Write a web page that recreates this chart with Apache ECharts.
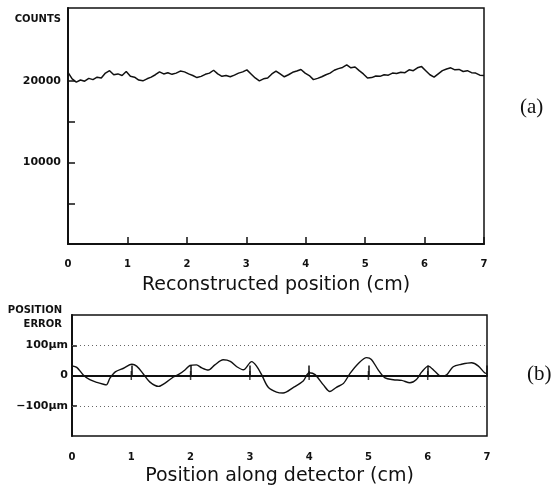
<!DOCTYPE html>
<html>
<head>
<meta charset="utf-8">
<script src="https://cdn.jsdelivr.net/npm/echarts@6/dist/echarts.min.js"></script>
<style>
  html, body { margin: 0; padding: 0; background: #fff; }
  #chart { width: 559px; height: 489px; }
</style>
</head>
<body>
<div id="chart"></div>
<script>
// (a) counts vs reconstructed position, one value every 0.07 cm
var COUNT_STEP = 0.07;
var counts = [
  21100, 20300, 19900, 20150, 20000, 20350, 20200, 20500, 20400, 21000,
  21300, 20800, 20900, 20700, 21200, 20600, 20500, 20150, 20050, 20300,
  20500, 20800, 21150, 20900, 21050, 20850, 21000, 21250, 21150, 20900,
  20700, 20450, 20600, 20850, 21000, 21350, 20900, 20600, 20700, 20550,
  20750, 21000, 21150, 21400, 20900, 20400, 20050, 20300, 20400, 20900,
  21250, 20900, 20550, 20800, 21100, 21250, 21450, 21000, 20700, 20200,
  20350, 20550, 20800, 21000, 21350, 21550, 21700, 22000, 21650, 21750,
  21300, 20900, 20400, 20450, 20650, 20600, 20800, 20750, 21000, 20950,
  21100, 21050, 21400, 21300, 21650, 21800, 21300, 20800, 20500, 20900,
  21300, 21500, 21650, 21400, 21450, 21200, 21300, 21050, 21000, 20750,
  20700
];

// (b) position error (um) vs position along detector (cm)
var errPos = [0, 0.08, 0.19, 0.30, 0.42, 0.53, 0.58, 0.64, 0.73, 0.87,
  1.01, 1.09, 1.20, 1.31, 1.46, 1.57, 1.71, 1.82, 1.91, 1.99,
  2.10, 2.19, 2.30, 2.41, 2.55, 2.67, 2.78, 2.89, 3.03, 3.11,
  3.20, 3.31, 3.45, 3.56, 3.73, 3.90, 4.00, 4.10, 4.24, 4.35,
  4.46, 4.58, 4.69, 4.83, 4.97, 5.05, 5.17, 5.28, 5.42, 5.56,
  5.70, 5.81, 5.90, 6.01, 6.12, 6.23, 6.32, 6.43, 6.57, 6.74,
  6.85, 6.96, 7.00];
var errVal = [32, 27, 2, -14, -23, -29, -31, -9, 12, 24,
  37, 31, 6, -21, -36, -25, -5, 6, 19, 33,
  35, 25, 18, 35, 52, 47, 29, 19, 46, 32,
  2, -39, -55, -58, -40, -18, 9, 3, -31, -53,
  -39, -26, 7, 40, 59, 53, 17, -8, -14, -16,
  -24, -13, 12, 31, 14, -3, 2, 29, 37, 42,
  32, 9, 6];

var xTicks = [1, 2, 3, 4, 5, 6];
var countTicks = [5000, 10000, 15000, 20000];
var countLabels = [10000, 20000];
var errTicks = [-100, 0, 100];
var errLabels = { '100': '100\u03bcm', '0': '0', '-100': '\u2212100\u03bcm' };

var font = 'DejaVu Sans';
var myChart = echarts.init(document.getElementById('chart'));

var axisLineStyle = { color: '#111', width: 2 };
var option = {
  backgroundColor: '#fff',
  animation: false,
  grid: [
    { left: 68, top: 8, width: 416, height: 236, show: true, borderColor: '#111', borderWidth: 1.5, containLabel: false },
    { left: 72, top: 315, width: 415, height: 121, show: true, borderColor: '#111', borderWidth: 1.5, containLabel: false }
  ],
  xAxis: [
    {
      gridIndex: 0, type: 'value', min: 0, max: 7, interval: 1,
      axisLine: { lineStyle: axisLineStyle },
      axisTick: { inside: true, length: 7, lineStyle: { color: '#111', width: 1.5 } },
      axisLabel: { margin: 15, color: '#111', fontFamily: font, fontWeight: 'bold', fontSize: 10 },
      splitLine: { show: false },
      name: 'Reconstructed position (cm)', nameLocation: 'middle', nameGap: 32,
      nameTextStyle: { color: '#111', fontFamily: font, fontSize: 19 }
    },
    {
      gridIndex: 1, type: 'value', min: 0, max: 7, interval: 1,
      axisLine: { lineStyle: axisLineStyle },
      axisTick: { inside: true, length: 10, lineStyle: { color: '#111', width: 1.5 } },
      axisLabel: { margin: 16, color: '#111', fontFamily: font, fontWeight: 'bold', fontSize: 10 },
      splitLine: { show: false },
      name: 'Position along detector (cm)', nameLocation: 'middle', nameGap: 31,
      nameTextStyle: { color: '#111', fontFamily: font, fontSize: 19 }
    }
  ],
  yAxis: [
    {
      gridIndex: 0, type: 'value', min: 0, max: 29000,
      axisLine: { lineStyle: axisLineStyle },
      axisTick: { inside: true, length: 7, customValues: countTicks, lineStyle: { color: '#111', width: 1.5 } },
      axisLabel: {
        margin: 7, customValues: countLabels, color: '#111', fontFamily: font, fontWeight: 'bold', fontSize: 11,
        formatter: function (v) { return String(v); }
      },
      splitLine: { show: false }
    },
    {
      gridIndex: 1, type: 'value', min: -200, max: 200,
      axisLine: { lineStyle: axisLineStyle },
      axisTick: { inside: true, length: 5, customValues: errTicks, lineStyle: { color: '#111', width: 1.5 } },
      axisLabel: {
        margin: 4, customValues: errTicks, color: '#111', fontFamily: font, fontWeight: 'bold', fontSize: 11,
        formatter: function (v) { return errLabels[String(v)]; }
      },
      splitLine: { show: false }
    }
  ],
  graphic: [
    { type: 'text', right: 498, top: 14, style: { text: 'COUNTS', fill: '#111', font: 'bold 10px "DejaVu Sans"' } },
    { type: 'text', right: 497, top: 305, style: { text: 'POSITION', fill: '#111', font: 'bold 10px "DejaVu Sans"' } },
    { type: 'text', right: 497, top: 319, style: { text: 'ERROR', fill: '#111', font: 'bold 10px "DejaVu Sans"' } },
    { type: 'text', left: 520, top: 97, style: { text: '(a)', fill: '#111', font: '21px "Liberation Serif"' } },
    { type: 'text', left: 527, top: 364, style: { text: '(b)', fill: '#111', font: '21px "Liberation Serif"' } }
  ],
  series: [
    {
      type: 'line', xAxisIndex: 0, yAxisIndex: 0, symbol: 'none',
      lineStyle: { color: '#111', width: 1.5 },
      data: counts.map(function (v, i) { return [i * COUNT_STEP, v]; })
    },
    {
      type: 'line', xAxisIndex: 1, yAxisIndex: 1, symbol: 'none', smooth: 0.3,
      lineStyle: { color: '#111', width: 1.4 },
      data: errPos.map(function (x, i) { return [x, errVal[i]]; }),
      markLine: {
        silent: true, symbol: 'none', label: { show: false },
        data: [
          { yAxis: 100, lineStyle: { type: [1, 3], color: '#666', width: 1 } },
          { yAxis: -100, lineStyle: { type: [1, 3], color: '#666', width: 1 } },
          { yAxis: 0, lineStyle: { type: 'solid', color: '#111', width: 1.5 } }
        ]
      }
    },
    {
      // small ticks crossing the zero line
      type: 'scatter', xAxisIndex: 1, yAxisIndex: 1,
      symbol: 'rect', symbolSize: [1.5, 9],
      itemStyle: { color: '#111' },
      data: xTicks.map(function (x) { return [x, 0]; })
    }
  ]
};
myChart.setOption(option);
</script>
</body>
</html>
